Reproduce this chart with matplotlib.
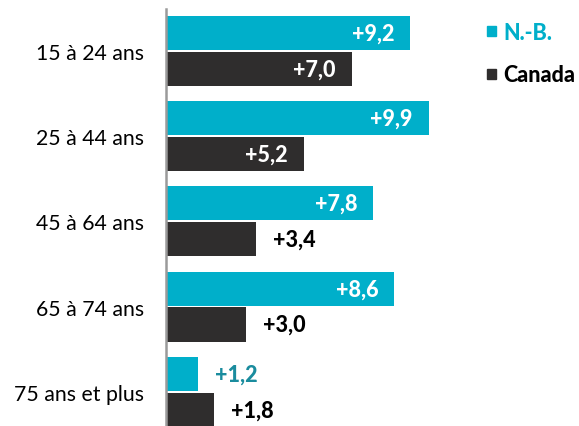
import matplotlib
matplotlib.use("Agg")
import matplotlib.pyplot as plt
import numpy as np

plt.rcParams['font.family'] = ['Lato', 'DejaVu Sans']

categories = ["15 à 24 ans", "25 à 44 ans", "45 à 64 ans", "65 à 74 ans", "75 ans et plus"]
nb_values = [9.2, 9.9, 7.8, 8.6, 1.2]
canada_values = [7.0, 5.2, 3.4, 3.0, 1.8]
series_names = ["N.-B.", "Canada"]

CYAN = "#00AFCA"
DARK = "#2F2D2D"
TEAL = "#1A8C9E"

fig = plt.figure(figsize=(5.79, 4.27), dpi=100)
ax = fig.add_axes([166/579, 0.0, 1 - 166/579, 1 - 10/427])

y = np.arange(len(categories))
h = 0.40
off = 0.21
ax.barh(y - off, nb_values, height=h, color=CYAN)
ax.barh(y + off, canada_values, height=h, color=DARK)

ax.set_xlim(0, (579 - 166) / 26.55)
ax.set_ylim(4.40, -0.49)

px = 26.55  # pixels per unit
VFS = 15.5
W = 900
def fmt(v):
    return "+" + f"{v:.1f}".replace(".", ",")

for i, v in enumerate(nb_values):
    if v > 4:
        ax.text(v - 16/px, i - off, fmt(v), ha="right", va="center",
                color="white", fontsize=VFS, fontweight=W)
    else:
        ax.text(v + 17/px, i - off, fmt(v), ha="left", va="center",
                color=TEAL, fontsize=VFS, fontweight=W)
for i, v in enumerate(canada_values):
    if v > 4:
        ax.text(v - 16/px, i + off, fmt(v), ha="right", va="center",
                color="white", fontsize=VFS, fontweight=W)
    else:
        ax.text(v + 17/px, i + off, fmt(v), ha="left", va="center",
                color="black", fontsize=VFS, fontweight=W)

ax.set_yticks(y)
ax.set_yticklabels(categories, fontsize=15.3)
ax.tick_params(axis="y", length=0, pad=16)
ax.set_xticks([])
for s in ["top", "right", "bottom"]:
    ax.spines[s].set_visible(False)
ax.spines["left"].set_color("#9A9A9A")
ax.spines["left"].set_linewidth(1.8)

# legend
fig.patches.append(plt.Rectangle((487/579, 1 - 37/427), 9/579, 10/427,
                                 transform=fig.transFigure, color=CYAN))
fig.text(503/579, 1 - 33/427, series_names[0], color=CYAN, fontsize=15.5,
         fontweight=W, va="center", ha="left")
fig.patches.append(plt.Rectangle((487/579, 1 - 80/427), 9/579, 10/427,
                                 transform=fig.transFigure, color=DARK))
fig.text(503/579, 1 - 76/427, series_names[1], color="black", fontsize=15.5,
         fontweight=W, va="center", ha="left")

fig.savefig("out.png", dpi=100)
